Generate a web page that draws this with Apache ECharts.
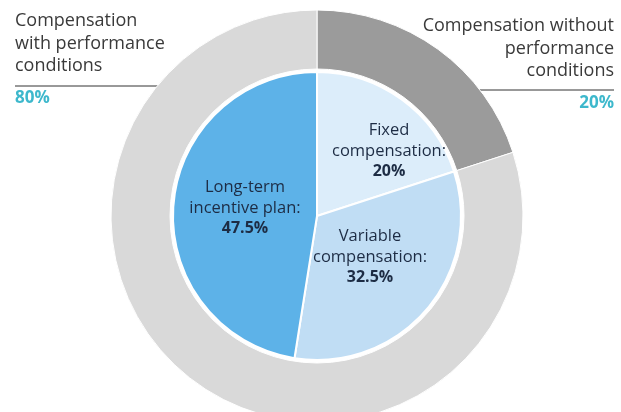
<!DOCTYPE html>
<html>
<head>
<meta charset="utf-8">
<script src="https://cdn.jsdelivr.net/npm/echarts@6/dist/echarts.min.js"></script>
<style>
  html, body { margin: 0; padding: 0; background: #fff; }
  #container { width: 621px; height: 412px; }
</style>
</head>
<body>
<div id="container"></div>
<script>
// outer ring: clockwise from top
let outerNames = ['Compensation without\nperformance\nconditions', 'Compensation\nwith performance\nconditions'];
let outerValues = [20, 80];
let outerColors = ['#9b9b9b', '#d9d9d9'];

// inner pie: clockwise from top
let innerNames = ['Fixed\ncompensation:', 'Variable\ncompensation:', 'Long-term\nincentive plan:'];
let innerValues = [20, 32.5, 47.5];
let innerColors = ['#dcedfa', '#c0ddf4', '#5db2e8'];

let font = 'Open Sans';
let center = [317, 216];

let dom = document.getElementById('container');
let chart = echarts.init(dom);

chart.setOption({
    backgroundColor: '#fff',
    animation: false,
    series: [{
        name: 'Outer',
        type: 'pie',
        center: center,
        radius: [147, 206],
        startAngle: 90,
        silent: true,
        itemStyle: {
            borderColor: '#fff',
            borderWidth: 1
        },
        label: {
            show: true,
            overflow: 'none',
            fontFamily: font,
            formatter: (p) => '{t|' + p.name.split('\n').join('}\n{t|') + '}\n{p|' + p.value + '%}',
            rich: {
                t: {fontFamily: font, fontSize: 18, lineHeight: 22.5, color: '#3a3a3a'},
                p: {fontFamily: font, fontSize: 17, lineHeight: 20, fontWeight: 'bold', color: '#3db8cc', padding: [22, 0, 0, 0]}
            }
        },
        labelLine: {
            show: true,
            lineStyle: {color: '#333', width: 1}
        },
        labelLayout: (params) => {
            if (params.dataIndex === 0) {
                return {
                    x: 614, y: 15, align: 'right', verticalAlign: 'top',
                    labelLinePoints: [[466, 90], [540, 90], [614, 90]]
                };
            }
            return {
                x: 15, y: 10, align: 'left', verticalAlign: 'top',
                labelLinePoints: [[180, 86], [100, 86], [15, 86]]
            };
        },
        data: outerNames.map((n, i) => ({name: n, value: outerValues[i], itemStyle: {color: outerColors[i]}}))
    }, {
        name: 'Inner',
        type: 'pie',
        center: center,
        radius: [0, 144],
        startAngle: 90,
        silent: true,
        itemStyle: {
            borderColor: '#fff',
            borderWidth: 2
        },
        label: {
            show: true,
            position: 'inside',
            overflow: 'none',
            formatter: (p) => '{t|' + p.name.split('\n').join('}\n{t|') + '}\n{b|' + p.value + '%}',
            rich: {
                t: {fontFamily: font, fontSize: 16.5, lineHeight: 20.5, color: '#1d2c44', align: 'center'},
                b: {fontFamily: font, fontSize: 16, lineHeight: 20.5, fontWeight: 'bold', color: '#1d2c44', align: 'center'}
            }
        },
        labelLine: {show: false},
        labelLayout: (params) => {
            let pos = [[389, 151], [370, 257], [245, 208]][params.dataIndex];
            return {x: pos[0], y: pos[1], align: 'center', verticalAlign: 'middle'};
        },
        data: innerNames.map((n, i) => ({name: n, value: innerValues[i], itemStyle: {color: innerColors[i]}}))
    }]
});
</script>
</body>
</html>
